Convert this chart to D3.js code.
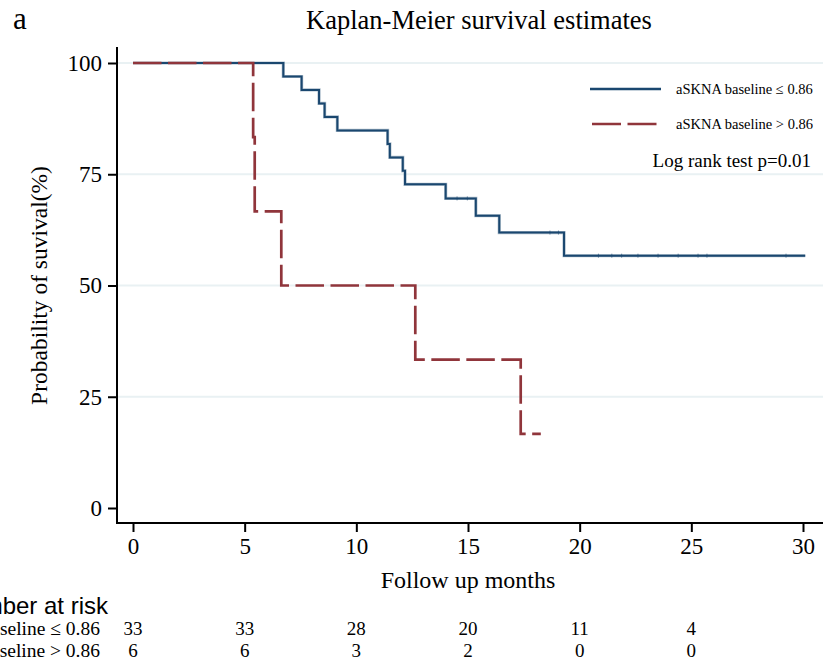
<!DOCTYPE html>
<html>
<head>
<meta charset="utf-8">
<script src="https://cdn.jsdelivr.net/npm/d3@7"></script>
<style>
  html, body { margin: 0; padding: 0; background: #fff; }
  svg { display: block; }
  text { font-family: "Liberation Serif", "Times New Roman", serif; fill: #000; }
</style>
</head>
<body>
<script>
// ---------- data ----------
const seriesNames = ["aSKNA baseline \u2264 0.86", "aSKNA baseline > 0.86"];
// step points: [month, survival %]
const lowTimes   = [0, 6.73, 7.55, 8.33, 8.58, 9.15, 11.4, 11.5, 12.08, 12.18, 14.0, 15.35, 16.4, 19.3, 30.1];
const lowSurv    = [100, 96.97, 93.94, 90.91, 87.88, 84.85, 81.82, 78.79, 75.76, 72.73, 69.57, 65.7, 61.9, 56.7, 56.7];
const highTimes  = [0, 5.38, 5.45, 6.64, 12.64, 17.36, 18.26];
const highSurv   = [100, 83.33, 66.67, 50, 33.33, 16.67, 16.67];
// censoring marks (month) for the low group
const lowCensor  = [14.51, 14.97, 18.67, 19.05, 20.84, 21.44, 21.88, 22.61, 23.51, 24.41, 25.30, 25.70, 29.24];
const xTicks = [0, 5, 10, 15, 20, 25, 30];
const yTicks = [0, 25, 50, 75, 100];
const gridTicks = [25, 50, 75, 100];
const riskTimes = [0, 5, 10, 15, 20, 25];
const riskLow  = [33, 33, 28, 20, 11, 4];
const riskHigh = [6, 6, 3, 2, 0, 0];
const titleText = "Kaplan-Meier survival estimates";
const logRankText = "Log rank test p=0.01";

// ---------- setup ----------
const W = 823, H = 666;
const blue = "#1a476f", red = "#90353b", gridCol = "#e9f1f3";
const svg = d3.select("body").append("svg").attr("width", W).attr("height", H);

const x = d3.scaleLinear().domain([0, 30]).range([133, 803]);
const y = d3.scaleLinear().domain([0, 100]).range([508, 63]);
const axisX0 = 117, axisY0 = 523;

// panel label & title
svg.append("text").attr("x", 13).attr("y", 29).attr("font-size", 31).text("a");
svg.append("text").attr("x", 479).attr("y", 29).attr("text-anchor", "middle")
  .attr("font-size", 26.5).text(titleText);

// gridlines
svg.append("g").selectAll("line").data(gridTicks).join("line")
  .attr("x1", axisX0).attr("x2", W)
  .attr("y1", d => y(d)).attr("y2", d => y(d))
  .attr("stroke", gridCol).attr("stroke-width", 2);

// y axis
const yAxis = d3.axisLeft(y).tickValues(yTicks).tickSize(9).tickPadding(6);
const gy = svg.append("g").attr("transform", `translate(${axisX0},0)`).call(yAxis);
gy.select(".domain").remove();
gy.selectAll(".tick line").attr("stroke", "#000").attr("stroke-width", 2);
gy.selectAll(".tick text").attr("font-size", 23);
svg.append("line").attr("x1", axisX0).attr("x2", axisX0).attr("y1", 47).attr("y2", axisY0 + 1)
  .attr("stroke", "#000").attr("stroke-width", 2);

// x axis
const xAxis = d3.axisBottom(x).tickValues(xTicks).tickSize(9).tickPadding(6);
const gx = svg.append("g").attr("transform", `translate(0,${axisY0})`).call(xAxis);
gx.select(".domain").remove();
gx.selectAll(".tick line").attr("stroke", "#000").attr("stroke-width", 2);
gx.selectAll(".tick text").attr("font-size", 23);
svg.append("line").attr("x1", axisX0 - 1).attr("x2", W).attr("y1", axisY0).attr("y2", axisY0)
  .attr("stroke", "#000").attr("stroke-width", 2);

// axis titles
svg.append("text").attr("x", 468).attr("y", 588).attr("text-anchor", "middle")
  .attr("font-size", 24).text("Follow up months");
svg.append("text").attr("transform", `translate(47,${(y(0) + y(100)) / 2}) rotate(-90)`)
  .attr("text-anchor", "middle").attr("font-size", 23.5).text("Probability of suvival(%)");

// curves
const line = d3.line().curve(d3.curveStepAfter).x(d => x(d[0])).y(d => y(d[1]));
const lowData = lowTimes.map((t, i) => [t, lowSurv[i]]);
const highData = highTimes.map((t, i) => [t, highSurv[i]]);

svg.append("path").datum(lowData).attr("d", line).attr("fill", "none")
  .attr("stroke", blue).attr("stroke-opacity", 0.35).attr("stroke-width", 3.2);
svg.append("path").datum(lowData).attr("d", line).attr("fill", "none")
  .attr("stroke", blue).attr("stroke-width", 2);

// censor ticks for low group
const survAt = t => { let s = 100; lowTimes.forEach((tt, i) => { if (tt <= t) s = lowSurv[i]; }); return s; };
svg.append("g").selectAll("line").data(lowCensor).join("line")
  .attr("x1", d => x(d)).attr("x2", d => x(d))
  .attr("y1", d => y(survAt(d)) - 2).attr("y2", d => y(survAt(d)) + 2)
  .attr("stroke", blue).attr("stroke-opacity", 0.6).attr("stroke-width", 1);

svg.append("path").datum(highData).attr("d", line).attr("fill", "none")
  .attr("stroke", red).attr("stroke-width", 2.7).attr("stroke-dasharray", "28.5,6.5")
  .attr("stroke-linejoin", "miter");

// legend
const lg = svg.append("g");
lg.append("line").attr("x1", 590).attr("x2", 661).attr("y1", 89).attr("y2", 89)
  .attr("stroke", blue).attr("stroke-width", 2.6);
lg.append("line").attr("x1", 592).attr("x2", 657).attr("y1", 124).attr("y2", 124)
  .attr("stroke", red).attr("stroke-width", 2.6).attr("stroke-dasharray", "29,6.5");
lg.append("text").attr("x", 676).attr("y", 94).attr("font-size", 14.5).text(seriesNames[0]);
lg.append("text").attr("x", 676).attr("y", 129).attr("font-size", 14.5).text(seriesNames[1]);
svg.append("text").attr("x", 811).attr("y", 167).attr("text-anchor", "end")
  .attr("font-size", 19).text(logRankText);

// number at risk table
svg.append("text").attr("x", 108).attr("y", 614).attr("text-anchor", "end")
  .style("font-family", "'Liberation Sans', Arial, sans-serif").attr("font-size", 24)
  .text("Number at risk");
const rows = [[seriesNames[0], riskLow, 635], [seriesNames[1], riskHigh, 657]];
rows.forEach(([name, vals, yy]) => {
  svg.append("text").attr("x", 100).attr("y", yy).attr("text-anchor", "end")
    .attr("font-size", 19.5).text(name);
  svg.append("g").selectAll("text").data(riskTimes).join("text")
    .attr("x", d => x(d)).attr("y", yy).attr("text-anchor", "middle")
    .attr("font-size", 19).text((d, i) => vals[i]);
});
</script>
</body>
</html>
